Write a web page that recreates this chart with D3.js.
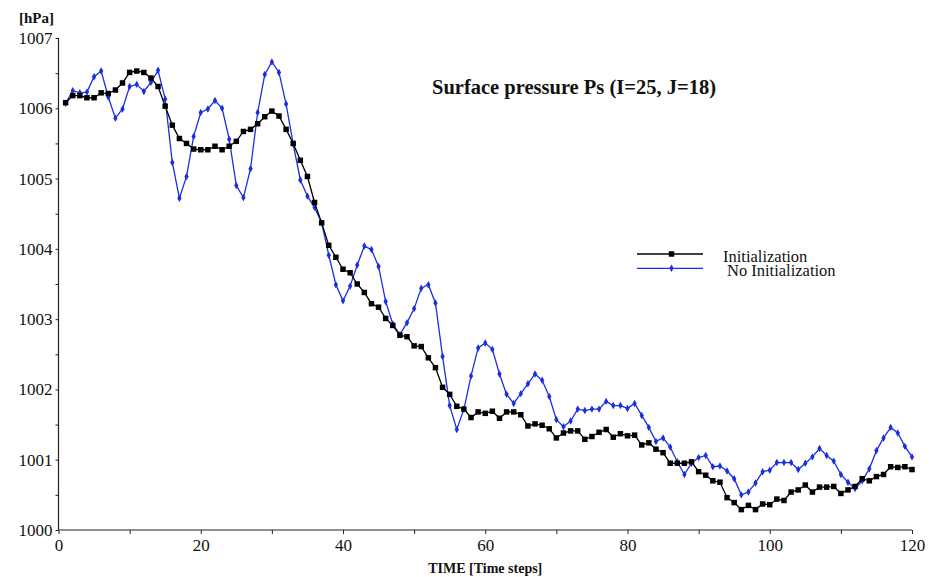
<!DOCTYPE html>
<html>
<head>
<meta charset="utf-8">
<script src="https://cdn.jsdelivr.net/npm/d3@7"></script>
<style>
  body { margin: 0; background: #fff; }
</style>
</head>
<body>
<div id="graphicContainer"></div>
<script>

const steps = d3.range(1, 121)

const initialization = [
  1006.08, 1006.18, 1006.18, 1006.15, 1006.15, 1006.22, 1006.21, 1006.26, 1006.36, 1006.51,
  1006.53, 1006.51, 1006.43, 1006.31, 1006.03, 1005.76, 1005.57, 1005.50, 1005.42, 1005.41,
  1005.41, 1005.46, 1005.41, 1005.46, 1005.53, 1005.67, 1005.70, 1005.78, 1005.88, 1005.96,
  1005.89, 1005.70, 1005.50, 1005.26, 1005.03, 1004.66, 1004.37, 1004.05, 1003.88, 1003.71,
  1003.66, 1003.50, 1003.38, 1003.22, 1003.17, 1003.01, 1002.91, 1002.77, 1002.75, 1002.62,
  1002.61, 1002.45, 1002.31, 1002.03, 1001.93, 1001.76, 1001.72, 1001.60, 1001.68, 1001.66,
  1001.69, 1001.59, 1001.68, 1001.68, 1001.64, 1001.48, 1001.51, 1001.49, 1001.44, 1001.31,
  1001.38, 1001.41, 1001.41, 1001.29, 1001.33, 1001.39, 1001.43, 1001.32, 1001.37, 1001.34,
  1001.35, 1001.21, 1001.24, 1001.15, 1001.10, 1000.95, 1000.95, 1000.95, 1000.97, 1000.83,
  1000.78, 1000.70, 1000.68, 1000.46, 1000.39, 1000.29, 1000.35, 1000.29, 1000.37, 1000.36,
  1000.44, 1000.42, 1000.54, 1000.57, 1000.64, 1000.54, 1000.61, 1000.61, 1000.62, 1000.52,
  1000.57, 1000.62, 1000.73, 1000.70, 1000.76, 1000.79, 1000.90, 1000.89, 1000.90, 1000.86
]

const noInitialization = [
  1006.07, 1006.25, 1006.22, 1006.23, 1006.45, 1006.53, 1006.16, 1005.86, 1005.99, 1006.31,
  1006.34, 1006.24, 1006.37, 1006.54, 1006.13, 1005.23, 1004.72, 1005.03, 1005.60, 1005.94,
  1005.99, 1006.11, 1006.00, 1005.56, 1004.90, 1004.73, 1005.14, 1005.94, 1006.48, 1006.66,
  1006.51, 1006.06, 1005.49, 1004.98, 1004.75, 1004.59, 1004.37, 1003.91, 1003.49, 1003.26,
  1003.47, 1003.77, 1004.04, 1003.99, 1003.75, 1003.25, 1002.93, 1002.78, 1002.95, 1003.15,
  1003.44, 1003.49, 1003.23, 1002.47, 1001.77, 1001.43, 1001.72, 1002.19, 1002.59, 1002.66,
  1002.57, 1002.22, 1001.93, 1001.80, 1001.94, 1002.08, 1002.22, 1002.13, 1001.90, 1001.57,
  1001.47, 1001.55, 1001.72, 1001.70, 1001.72, 1001.72, 1001.83, 1001.77, 1001.77, 1001.73,
  1001.80, 1001.63, 1001.46, 1001.26, 1001.31, 1001.18, 1000.97, 1000.79, 1000.95, 1001.03,
  1001.06, 1000.90, 1000.91, 1000.84, 1000.73, 1000.50, 1000.54, 1000.67, 1000.83, 1000.85,
  1000.96, 1000.96, 1000.96, 1000.86, 1000.95, 1001.04, 1001.16, 1001.06, 1000.98, 1000.79,
  1000.68, 1000.59, 1000.70, 1000.87, 1001.13, 1001.31, 1001.46, 1001.38, 1001.19, 1001.04
]

const seriesNames = ["Initialization", "No Initialization"]
const xTicks = d3.range(0, 121, 10)
const xLabels = d3.range(0, 121, 20)
const yTicks = d3.range(1000, 1007.01, 0.5)

const title = "Surface pressure Ps (I=25, J=18)"
const xAxisLabel = "TIME [Time steps]"
const yAxisLabel = "[hPa]"

const width = 933
const height = 577
const margin = { left: 58.5, right: 21, top: 38, bottom: 47 }

const serif = "Liberation Serif"
const black = "#000"
const blue = "#1a2fe0"

const svg = d3.select("#graphicContainer")
  .append("svg")
  .attr("width", width)
  .attr("height", height)

const x = d3.scaleLinear()
  .domain([0, 120])
  .range([margin.left, width - margin.right])

const y = d3.scaleLinear()
  .domain([1000, 1007])
  .range([height - margin.bottom, margin.top])

const xAxis = d3.axisBottom(x)
  .tickValues(xTicks)
  .tickSize(4)
  .tickPadding(5)
  .tickFormat(d => xLabels.includes(d) ? d : "")

const yAxis = d3.axisLeft(y)
  .tickValues(yTicks)
  .tickSize(3)
  .tickPadding(3)
  .tickFormat(d => Number.isInteger(d) ? d : "")

const gx = svg.append("g")
  .attr("class", "x")
  .attr("transform", "translate(0," + y(1000) + ")")
  .call(xAxis)
  .attr("font-family", serif)
  .attr("font-size", 17)

const gy = svg.append("g")
  .attr("class", "y")
  .attr("transform", "translate(" + x(0) + ",0)")
  .call(yAxis)
  .attr("font-family", serif)
  .attr("font-size", 17)

gx.select("path").attr("d", "M" + x(0) + ",0H" + x(120))
gy.select("path").attr("d", "M0," + y(1007) + "V" + y(1000))

svg.selectAll(".x path, .y path")
  .style("stroke", "#222")
  .style("stroke-width", 1.2)

svg.selectAll(".tick line").style("stroke", "#222")
svg.selectAll(".tick text").attr("fill", "#111")

// series
const series = [
  { name: seriesNames[0], values: initialization, color: black, marker: "square" },
  { name: seriesNames[1], values: noInitialization, color: blue, marker: "diamond" }
]

const line = d3.line()
  .x((d, i) => x(steps[i]))
  .y(d => y(d))

const markerOf = s => s.marker == "square"
  ? d3.symbol().type(d3.symbolSquare).size(30)
  : d3.symbol().type(d3.symbolDiamond).size(16)

series.slice().reverse().forEach(s => {

  const g = svg.append("g").attr("class", "series")

  g.append("path")
    .datum(s.values)
    .attr("d", line)
    .attr("fill", "none")
    .attr("stroke", s.color)
    .attr("stroke-width", 1.3)

  g.selectAll(".pt")
    .data(s.values)
    .enter()
    .append("path")
    .attr("class", "pt")
    .attr("transform", (d, i) => "translate(" + x(steps[i]) + "," + y(d) + ")")
    .attr("d", markerOf(s))
    .attr("fill", s.color)
})

// legend
const legend = svg.append("g").attr("transform", "translate(637,254)")

series.forEach((s, i) => {
  const row = legend.append("g").attr("transform", "translate(0," + (i * 14.3) + ")")

  row.append("line")
    .attr("x1", 0)
    .attr("x2", 66)
    .attr("stroke", s.color)
    .attr("stroke-width", 1.3)

  row.append("path")
    .attr("transform", "translate(34.5,0)")
    .attr("d", markerOf(s))
    .attr("fill", s.color)

  row.append("text")
    .attr("x", i == 0 ? 86 : 90)
    .attr("y", 8)
    .style("font-family", serif)
    .style("font-size", "16.5px")
    .attr("fill", "#111")
    .text(s.name)
})

svg.append("text")
  .attr("x", 432)
  .attr("y", 94)
  .style("font-family", serif)
  .style("font-size", "20.5px")
  .style("font-weight", "bold")
  .attr("fill", "#111")
  .text(title)

svg.append("text")
  .attr("x", 19)
  .attr("y", 22.5)
  .style("font-family", serif)
  .style("font-size", "15px")
  .style("font-weight", "bold")
  .attr("fill", "#111")
  .text(yAxisLabel)

svg.append("text")
  .attr("x", (x(0) + x(120)) / 2)
  .attr("y", 573)
  .attr("text-anchor", "middle")
  .style("font-family", serif)
  .style("font-size", "14px")
  .style("font-weight", "bold")
  .attr("fill", "#111")
  .text(xAxisLabel)

</script>
</body>
</html>
